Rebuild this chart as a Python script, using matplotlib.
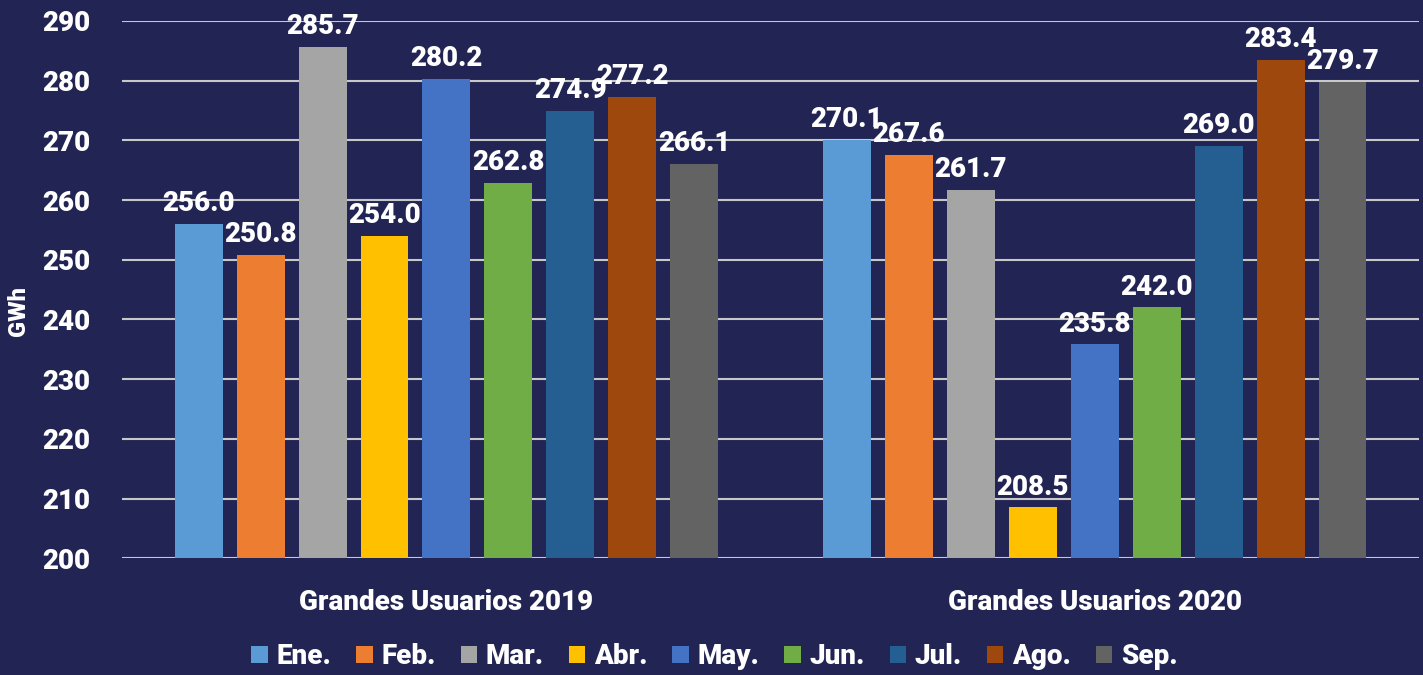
import numpy as np
import matplotlib
matplotlib.use("Agg")
from matplotlib import pyplot as plt

# data
groups = ['Grandes Usuarios 2019', 'Grandes Usuarios 2020']
months = ['Ene.', 'Feb.', 'Mar.', 'Abr.', 'May.', 'Jun.', 'Jul.', 'Ago.', 'Sep.']
gu_2019 = [256.0, 250.8, 285.7, 254.0, 280.2, 262.8, 274.9, 277.2, 266.1]
gu_2020 = [270.1, 267.6, 261.7, 208.5, 235.8, 242.0, 269.0, 283.4, 279.7]
colors = ['#5B9BD5', '#ED7D31', '#A5A5A5', '#FFC000', '#4472C4',
          '#70AD47', '#255E91', '#9E480E', '#636363']

bg = '#222453'
plt.rcParams['font.family'] = ['Roboto', 'DejaVu Sans']
plt.rcParams['font.weight'] = 'heavy'

fig = plt.figure(figsize=(14.23, 6.75), dpi=100, facecolor=bg)
ax = fig.add_axes([0.086, 0.173, 0.911, 0.796], facecolor=bg)

x = np.arange(len(groups))
step = 0.0956
width = 0.074
base = 200
for i, m in enumerate(months):
    vals = [gu_2019[i], gu_2020[i]]
    pos = x + (i - 4) * step
    ax.bar(pos, np.array(vals) - base, width, bottom=base,
           color=colors[i], label=m, zorder=3)
    for p, v in zip(pos, vals):
        ax.annotate(f'{v:.1f}', (p, v), xytext=(0, 5), textcoords='offset points',
                    ha='center', va='bottom', color='white', fontsize=20,
                    fontweight='heavy', annotation_clip=False, zorder=4)

ax.set_xlim(-0.5, 1.5)
ax.set_ylim(200, 290)
ax.set_yticks(np.arange(200, 291, 10))
ax.set_xticks(x)
ax.set_xticklabels(groups)
ax.grid(axis='y', color='#c8c8c8', linewidth=1.5, zorder=0)
ax.tick_params(axis='both', length=0, colors='white', labelsize=20)
ax.tick_params(axis='x', pad=22)
ax.tick_params(axis='y', pad=23)
for s in ax.spines.values():
    s.set_visible(False)
ax.set_ylabel('GWh', color='white', fontsize=17, fontweight='heavy')
ax.yaxis.set_label_coords(-0.071, 0.46)

fig.legend(loc='center', bbox_to_anchor=(0.502, 0.027), ncol=9, frameon=False,
           fontsize=20, handlelength=0.6, handleheight=0.6, handletextpad=0.3,
           columnspacing=0.9, labelcolor='white')

fig.savefig('out.png', facecolor=bg)
